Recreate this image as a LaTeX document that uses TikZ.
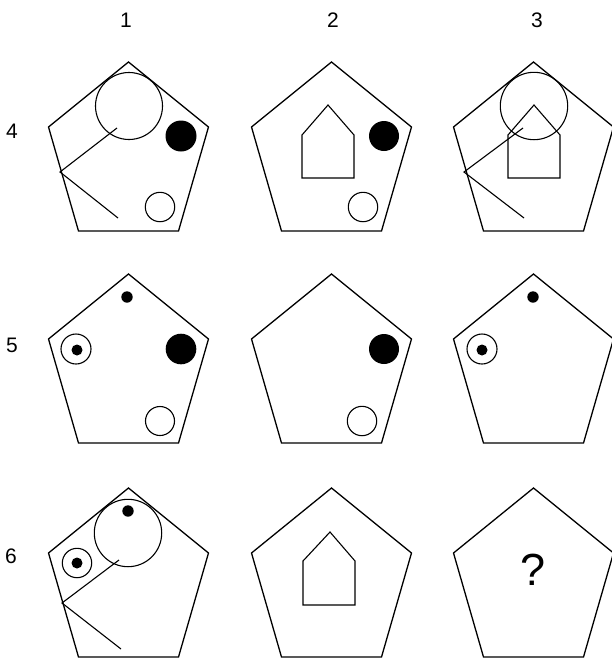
\documentclass[tikz,border=0pt]{standalone}
\usepackage{fontspec}
\setmainfont{Liberation Sans}
\begin{document}
\begin{tikzpicture}[x=1pt,y=-1pt,line width=1.1pt,
  every node/.style={font=\fontsize{21}{25}\selectfont,inner sep=0pt},
  pent/.style={draw,line width=1.3pt,line join=miter},
  dot/.style={fill=black}]
  \useasboundingbox (0,0) rectangle (612,659);
  % column and row labels
  \node (col1) at (126,20) {1};
  \node (col2) at (333,20) {2};
  \node (col3) at (537,20) {3};
  \node (row4) at (12,131) {4};
  \node (row5) at (12,345) {5};
  \node (row6) at (11,556) {6};
  % the nine pentagons, given by their top corners
  \foreach \px in {128.5,331.5,533.5}
    \foreach \py in {62,274,488}
      \draw[pent] (\px,\py) -- ++(80,65) -- ++(-30,104) -- ++(-100,0) -- ++(-30,-104) -- cycle;
  % row 4
  \draw (129,106) circle (33.5);
  \fill[dot] (181,136) circle (15.5);
  \draw (160,207) circle (14.7);
  \draw (117,128) -- (60,172) -- (118,218);
  \draw (328,105) -- (354,135) -- (354,178) -- (302,178) -- (302,135) -- cycle;
  \fill[dot] (384,136) circle (15);
  \draw (363,207) circle (14.7);
  \draw (534,106) circle (33.7);
  \draw (534,105) -- (560,135) -- (560,178) -- (508,178) -- (508,135) -- cycle;
  \draw (523,128) -- (464,172) -- (524,218);
  % row 5
  \fill[dot] (127,297) circle (5.7);
  \draw (76,349) circle (15); \fill[dot] (77,350) circle (5.5);
  \fill[dot] (181,349) circle (15.3);
  \draw (160,421) circle (14.5);
  \fill[dot] (384,349) circle (15);
  \draw (362,421) circle (14.7);
  \fill[dot] (533,297) circle (5.7);
  \draw (482,349) circle (15); \fill[dot] (482,350) circle (5.5);
  % row 6
  \draw (128,533) circle (33.7);
  \fill[dot] (128,511) circle (5.7);
  \draw (77,563) circle (14.7); \fill[dot] (77,563) circle (5.5);
  \draw (119,560) -- (62,603) -- (121,649);
  \draw (330,532) -- (355,561) -- (355,605) -- (303,605) -- (303,561) -- cycle;
  \node[font=\fontsize{45}{50}\selectfont] (ask) at (533,570) {?};
\end{tikzpicture}
\end{document}
